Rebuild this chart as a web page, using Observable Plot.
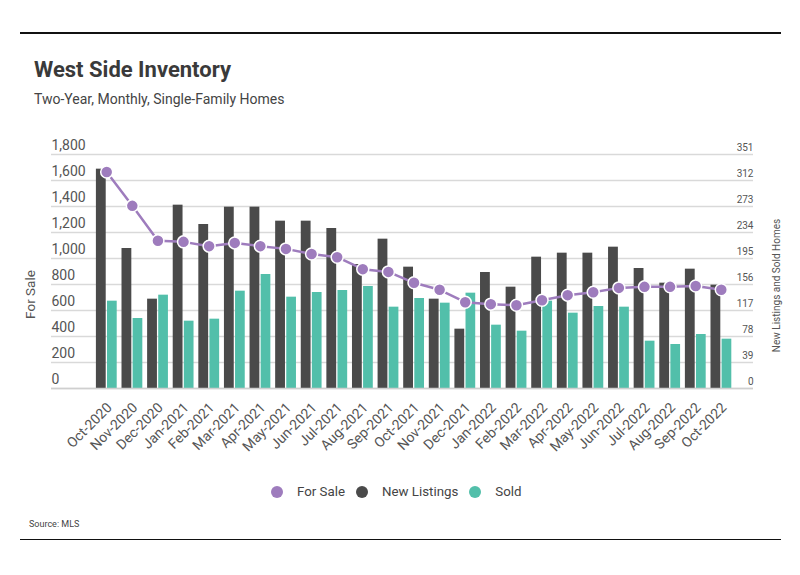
<!DOCTYPE html>
<html><head><meta charset="utf-8">
<script src="https://cdn.jsdelivr.net/npm/d3@7"></script>
<script src="https://cdn.jsdelivr.net/npm/@observablehq/plot@0.6"></script>
<style>
body{margin:0;background:#fff;}
#wrap{position:relative;width:800px;height:575px;font-family:Roboto,"Liberation Sans",sans-serif;color:#444;overflow:hidden;background:#fff}
.rule{position:absolute;left:20px;width:761px;height:1.5px;background:#111}
#title{position:absolute;left:34px;top:58.5px;font-size:22px;line-height:22px;font-weight:bold;color:#3a3a3a;white-space:nowrap}
#subtitle{position:absolute;left:34px;top:92.2px;font-size:14px;line-height:14px;color:#444;white-space:nowrap}
#chart{position:absolute;left:0;top:130px;width:800px;height:340px}
#legend{position:absolute;left:271px;top:485px;height:14px;display:flex;align-items:center;font-size:13.3px;line-height:14px;color:#444;white-space:nowrap}
#legend .sw{width:12px;height:12px;border-radius:50%;display:inline-block}
#source{position:absolute;left:29px;top:520px;font-size:9px;line-height:9px;color:#444}
</style></head><body>
<div id="wrap">
 <div class="rule" style="top:32px"></div>
 <div id="title">West Side Inventory</div>
 <div id="subtitle">Two-Year, Monthly, Single-Family Homes</div>
 <div id="chart"></div>
 <div id="legend"></div>
 <div id="source">Source: MLS</div>
 <div class="rule" style="top:538.5px"></div>
</div>
<script>
const months = ["Oct-2020","Nov-2020","Dec-2020","Jan-2021","Feb-2021","Mar-2021","Apr-2021","May-2021","Jun-2021","Jul-2021","Aug-2021","Sep-2021","Oct-2021","Nov-2021","Dec-2021","Jan-2022","Feb-2022","Mar-2022","Apr-2022","May-2022","Jun-2022","Jul-2022","Aug-2022","Sep-2022","Oct-2022"];
const forSale = [1666,1405,1136,1128,1095,1120,1095,1074,1035,1010,918,897,813,759,664,649,641,679,718,741,774,782,782,789,759];
const newListings = [329,210,134,275,246,272,272,251,251,240,186,224,182,134,89,174,152,197,203,203,212,180,158,179,155];
const sold = [131,105,140,101,104,146,171,137,144,147,153,122,135,128,143,95,86,131,113,123,122,71,66,81,74];
const leftTicks = [0,200,400,600,800,1000,1200,1400,1600,1800];
const rightTicks = [0,39,78,117,156,195,234,273,312,351];
const seriesNames = ["For Sale","New Listings","Sold"];
const seriesColors = ["#9e7cbd","#4a4a4a","#52bfaa"];

const leftMax = leftTicks[leftTicks.length-1], rightMax = rightTicks[rightTicks.length-1];
const k = leftMax / rightMax;
const data = months.map((m,i)=>({month:m, forSale:forSale[i], newListings:newListings[i], sold:sold[i]}));
const font = 'Roboto,"Liberation Sans",sans-serif';

const plot = Plot.plot({
  width:800, height:340, marginTop:24, marginBottom:82, marginLeft:51, marginRight:47,
  x:{type:"band", domain:months, range:[93.4,733.6], padding:0, round:false, axis:null},
  y:{domain:[0,leftMax], axis:null},
  style:{fontFamily:font, background:"transparent", overflow:"visible"},
  marks:[
    Plot.ruleY(leftTicks, {stroke:"#d9d9d9", strokeWidth:1.3}),
    Plot.barY(data, {x:"month", y:d=>d.newListings*k, fill:seriesColors[1], insetLeft:2.5, insetRight:13.3}),
    Plot.barY(data, {x:"month", y:d=>d.sold*k, fill:seriesColors[2], insetLeft:13.6, insetRight:2.3}),
    Plot.ruleY([0], {stroke:"#cfcfcf", strokeWidth:1.5}),
    Plot.line(data, {x:"month", y:"forSale", stroke:seriesColors[0], strokeWidth:2.5}),
    Plot.dot(data, {x:"month", y:"forSale", r:6, fill:seriesColors[0], stroke:"#fff", strokeWidth:1.5}),
    Plot.text(leftTicks, {y:d=>d, text:d=>d3.format(",")(d), frameAnchor:"left", textAnchor:"start", lineAnchor:"bottom", dy:-5, fontSize:14, fill:"#555"}),
    Plot.text(rightTicks, {y:d=>d*k, text:d=>String(d), frameAnchor:"right", textAnchor:"end", lineAnchor:"bottom", dy:-4, fontSize:10, fill:"#555"}),
    Plot.text(months, {x:d=>d, text:d=>d, frameAnchor:"bottom", textAnchor:"end", lineAnchor:"bottom", rotate:-45, dx:6, dy:20, fontSize:14, fill:"#555"}),
    Plot.text(["For Sale"], {text:d=>d, frameAnchor:"left", textAnchor:"middle", rotate:-90, dx:-21, dy:23, fontSize:13.5, fill:"#555"}),
    Plot.text(["New Listings and Sold Homes"], {text:d=>d, frameAnchor:"right", textAnchor:"middle", rotate:-90, dx:23, dy:14, fontSize:10, fill:"#555"})
  ]
});
document.getElementById("chart").appendChild(plot);

const legend = document.getElementById("legend");
const gaps = [0, 11, 11];
seriesNames.forEach((name,i)=>{
  const sw = document.createElement("span");
  sw.className = "sw";
  sw.style.background = seriesColors[i];
  sw.style.marginLeft = gaps[i] + "px";
  const t = document.createElement("span");
  t.textContent = name;
  t.style.marginLeft = "14px";
  legend.appendChild(sw); legend.appendChild(t);
});
</script>
</body></html>
